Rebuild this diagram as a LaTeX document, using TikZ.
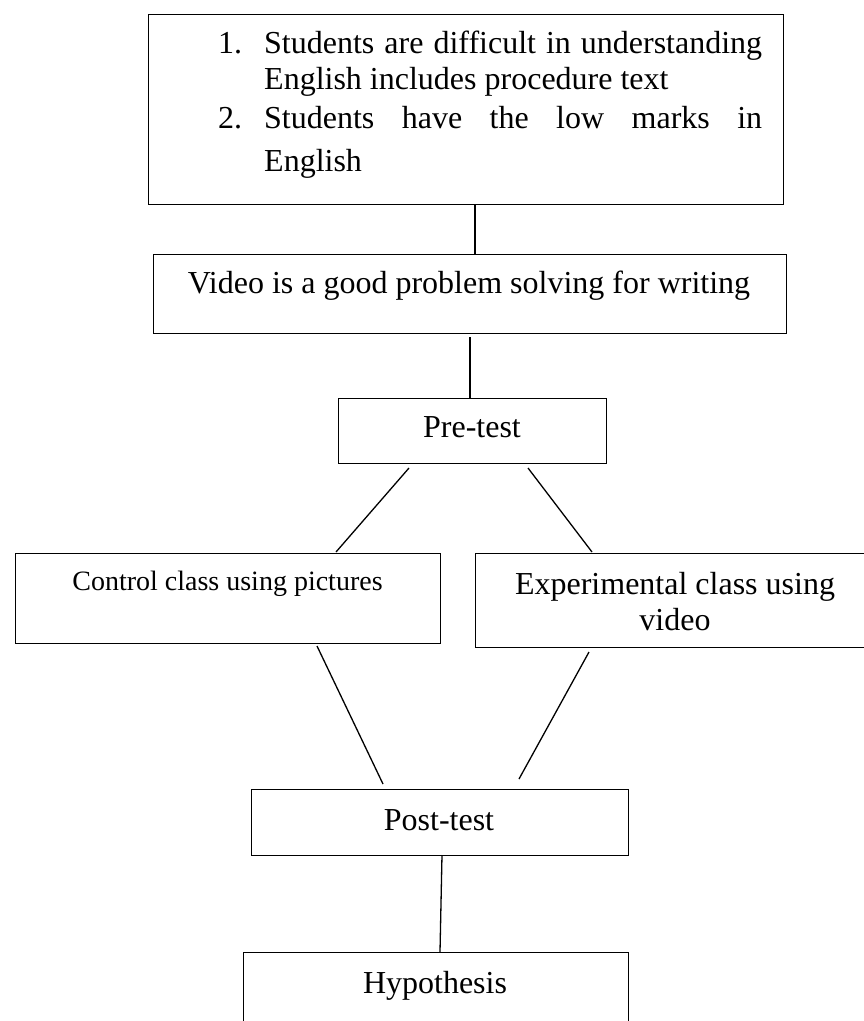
\documentclass[tikz,border=0pt]{standalone}
\usepackage{fontspec}
\setmainfont{Liberation Serif}
\begin{document}
\begin{tikzpicture}[x=1pt,y=-1pt,
  box/.style={draw, line width=1.4pt, anchor=north west, inner sep=0pt},
  txt/.style={anchor=base, inner sep=0pt, font=\fontsize{32}{36}\selectfont},
  ltxt/.style={anchor=base west, inner sep=0pt, font=\fontsize{32}{36}\selectfont},
  small/.style={anchor=base, inner sep=0pt, font=\fontsize{28}{32}\selectfont},
  conn/.style={line width=1.3pt}]
\useasboundingbox (0,0) rectangle (864,1021);
\clip (0,0) rectangle (864,1021);
% boxes
\node[box, minimum width=635pt, minimum height=190pt] (top) at (148,14) {};
\node[box, minimum width=633pt, minimum height=79pt] (vid) at (153,254) {};
\node[box, minimum width=268pt, minimum height=65pt] (pre) at (338,398) {};
\node[box, minimum width=425pt, minimum height=90pt] (ctrl) at (15,553) {};
\node[box, minimum width=400pt, minimum height=94pt] (exp) at (475,553) {};
\node[box, minimum width=377pt, minimum height=66pt] (post) at (251,789) {};
\node[box, minimum width=385pt, minimum height=100pt] (hyp) at (243,952) {};
% texts
\node[ltxt] (n1) at (218,53) {1.};
\node[ltxt] (l1) at (264,53) {\makebox[498pt][s]{Students are difficult in understanding}};
\node[ltxt] (l2) at (264,89) {English includes procedure text};
\node[ltxt] (n2) at (218,128) {2.};
\node[ltxt] (l3) at (264,128) {\makebox[498pt][s]{Students have the low marks in}};
\node[ltxt] (l4) at (264,171) {English};
\node[txt] (vidt) at (469,293) {Video is a good problem solving for writing};
\node[txt] (pret) at (472,437) {Pre-test};
\node[small] (ctrlt) at (227.5,590) {Control class using pictures};
\node[txt] (expt1) at (675,594) {Experimental class using};
\node[txt] (expt2) at (675,630) {video};
\node[txt] (postt) at (439,830) {Post-test};
\node[txt] (hypt) at (435,993) {Hypothesis};
% connector ends
\coordinate (a1) at (475,204); \coordinate (a2) at (475,254);
\coordinate (b1) at (470,337); \coordinate (b2) at (470,398);
\coordinate (c1) at (409,468); \coordinate (c2) at (336,552);
\coordinate (d1) at (528,468); \coordinate (d2) at (592,552);
\coordinate (e1) at (317,646); \coordinate (e2) at (383,784);
\coordinate (f1) at (589,652); \coordinate (f2) at (519,779);
\coordinate (g1) at (442,855); \coordinate (g2) at (440,952);
\draw[conn] (a1) -- (a2);
\draw[conn] (b1) -- (b2);
\draw[conn] (c1) -- (c2);
\draw[conn] (d1) -- (d2);
\draw[conn] (e1) -- (e2);
\draw[conn] (f1) -- (f2);
\draw[conn] (g1) -- (g2);
\end{tikzpicture}
\end{document}
